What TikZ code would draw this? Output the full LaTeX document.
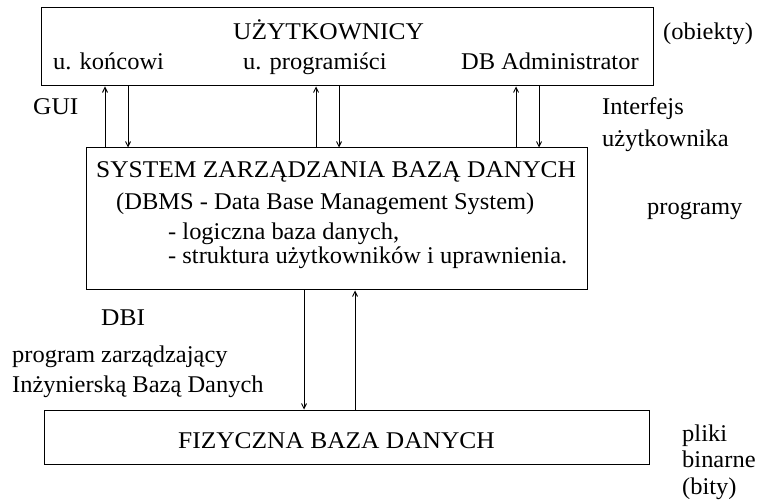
\documentclass[tikz,border=0pt]{standalone}
\usepackage{fontspec}
\setmainfont{Liberation Serif}[FakeStretch=1.02]
\newfontfamily\wideserif{Liberation Serif}[FakeStretch=1.06]
\usetikzlibrary{arrows.meta}
\begin{document}
\begin{tikzpicture}[x=1pt,y=-1pt,
  box/.style={draw, line width=1pt, inner sep=0pt, minimum width=#1},
  lbl/.style={anchor=base west, inner sep=0pt, font=\fontsize{24}{28}\selectfont},
  caps/.style={lbl, font=\fontsize{24}{28}\wideserif},
  link/.style={line width=0.9pt, -{Straight Barb[length=5pt,width=5pt]}}]
  \useasboundingbox (0,0) rectangle (757,502);

  % three layers
  \node[box=612pt, minimum height=78pt] (users) at (347,47) {};
  \node[box=501pt, minimum height=142pt] (dbms) at (336.5,219) {};
  \node[box=605pt, minimum height=54pt] (phys) at (346.5,437) {};

  % users layer
  \node[caps] (tUsers) at (233,40) {UŻYTKOWNICY};
  \node[lbl] (tEnd) at (53,70) {u. końcowi};
  \node[lbl] (tProg) at (243,70) {u. programiści};
  \node[lbl] (tAdm) at (461,70) {DB Administrator};
  \node[lbl] (tObj) at (663,40) {(obiekty)};

  % interface labels
  \node[caps] (tGui) at (33,115) {GUI};
  \node[lbl] (tIf1) at (602,115) {Interfejs};
  \node[lbl] (tIf2) at (602,147) {użytkownika};

  % DBMS layer
  \node[caps] (tSys) at (96,178) {SYSTEM ZARZĄDZANIA BAZĄ DANYCH};
  \node[lbl] (tDbms) at (116,210) {(DBMS - Data Base Management System)};
  \node[lbl] (tLog) at (168,240) {- logiczna baza danych,};
  \node[lbl] (tStr) at (168,264) {- struktura użytkowników i uprawnienia.};
  \node[lbl] (tProgs) at (647,215) {programy};

  % database interface labels
  \node[caps] (tDbi) at (101,326) {DBI};
  \node[lbl] (tMgr1) at (12,362) {program zarządzający};
  \node[lbl] (tMgr2) at (12,392) {Inżynierską Bazą Danych};

  % physical layer
  \node[caps] (tPhys) at (178,448) {FIZYCZNA BAZA DANYCH};
  \node[lbl] (tF1) at (682,441) {pliki};
  \node[lbl] (tF2) at (682,467) {binarne};
  \node[lbl] (tF3) at (682,494) {(bity)};

  % connector columns
  \coordinate (u1) at (105,0);
  \coordinate (d1) at (128,0);
  \coordinate (u2) at (316,0);
  \coordinate (d2) at (339,0);
  \coordinate (u3) at (516,0);
  \coordinate (d3) at (539,0);
  \coordinate (d4) at (304,0);
  \coordinate (u4) at (355,0);

  \draw[link] (dbms.north -| u1) -- (users.south -| u1);
  \draw[link] (users.south -| d1) -- (dbms.north -| d1);
  \draw[link] (dbms.north -| u2) -- (users.south -| u2);
  \draw[link] (users.south -| d2) -- (dbms.north -| d2);
  \draw[link] (dbms.north -| u3) -- (users.south -| u3);
  \draw[link] (users.south -| d3) -- (dbms.north -| d3);
  \draw[link] (dbms.south -| d4) -- (phys.north -| d4);
  \draw[link] (phys.north -| u4) -- (dbms.south -| u4);
\end{tikzpicture}
\end{document}
